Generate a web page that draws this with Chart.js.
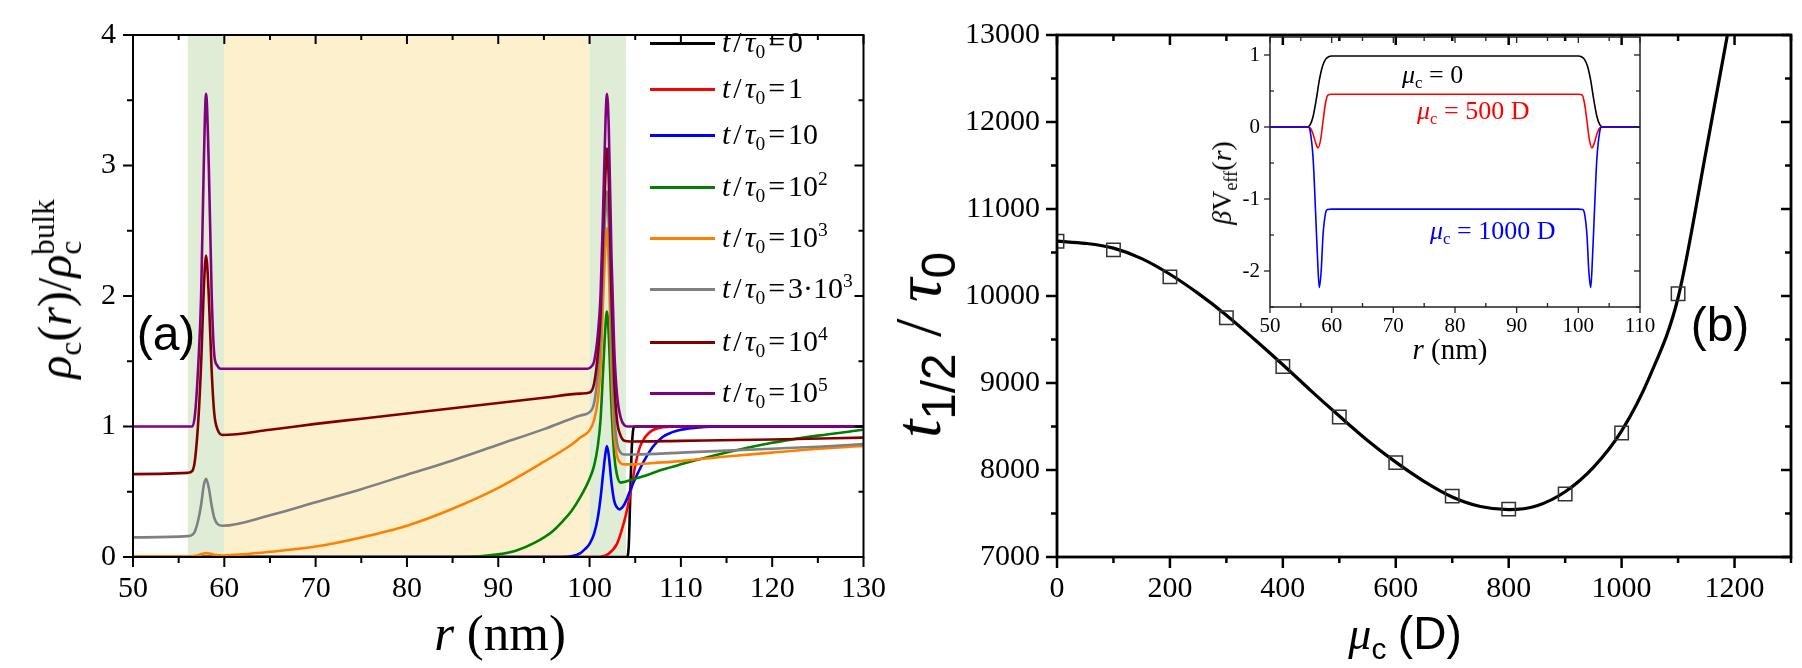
<!DOCTYPE html>
<html>
<head>
<meta charset="utf-8">
<script src="https://cdn.jsdelivr.net/npm/chart.js@4.4.1/dist/chart.umd.min.js"></script>
<style>
  html, body { margin:0; padding:0; background:#fff; }
  #page { position:relative; width:1802px; height:668px; overflow:hidden; background:#fff; }
  canvas { position:absolute; }
  .t { position:absolute; white-space:nowrap; line-height:1; font-family:'Liberation Serif','Times New Roman',serif; color:#000; }
  .t sub, .t sup { position:relative; vertical-align:baseline; font-size:0.65em; line-height:0; }
  .t sub { top:0.32em; }
  .t sup { top:-0.55em; }
  .sans { font-family:'Liberation Sans', Arial, sans-serif; }
  .leg-line { position:absolute; height:3px; }
</style>
</head>
<body>
<div id="page">
  <canvas id="cL" width="900" height="668" style="left:0;top:0"></canvas>
  <canvas id="cR" width="902" height="668" style="left:900px;top:0"></canvas>
  <canvas id="cI" width="520" height="370" style="left:1150px;top:0"></canvas>
</div>
<script>
// ---------------- Panel (a) data: r (nm) and rho_c(r)/rho_c^bulk ----------------
const xTicksA = [50, 60, 70, 80, 90, 100, 110, 120, 130];
const yTicksA = [0, 1, 2, 3, 4];
const bandStart = [56, 60, 100];
const bandEnd   = [60, 100, 104];
const bandColor = ['#dfedd6', '#fdf0cc', '#dfedd6'];

const r_t0 = [50, 104.1, 104.3, 104.45, 104.6, 104.75, 104.9, 130];
const rho_t0 = [0, 0, 0.1, 0.45, 0.8, 0.96, 1.0, 1.0];

const r_t1 = [50, 101, 102, 103, 103.5, 104, 104.5, 105, 105.5, 106, 106.5, 107, 108, 110, 130];
const rho_t1 = [0, 0, 0.02, 0.1, 0.2, 0.33, 0.5, 0.7, 0.84, 0.91, 0.95, 0.975, 0.995, 1.0, 1.0];

const r_t10 = [50, 97, 98, 99, 99.5, 100, 100.5, 100.9, 101.2, 101.5, 101.75, 101.9, 102.1, 102.4, 102.7, 103, 103.3, 103.7, 104, 104.5, 105, 106, 107, 108, 109, 110, 112, 115, 130];
const rho_t10 = [0, 0, 0.005, 0.03, 0.06, 0.1, 0.18, 0.3, 0.45, 0.65, 0.8, 0.85, 0.78, 0.57, 0.43, 0.38, 0.365, 0.39, 0.43, 0.52, 0.6, 0.74, 0.85, 0.92, 0.955, 0.975, 0.993, 1.0, 1.0];

const r_t1e2 = [50, 85, 88, 90, 92, 94, 96, 97, 98, 99, 100, 100.5, 100.9, 101.2, 101.5, 101.75, 101.9, 102.1, 102.4, 102.7, 103, 103.4, 103.8, 104.5, 105, 106, 108, 110, 115, 120, 125, 130];
const rho_t1e2 = [0, 0, 0.005, 0.02, 0.05, 0.11, 0.2, 0.27, 0.35, 0.46, 0.6, 0.7, 0.85, 1.05, 1.45, 1.78, 1.88, 1.7, 1.15, 0.78, 0.63, 0.57, 0.575, 0.59, 0.6, 0.62, 0.67, 0.71, 0.8, 0.875, 0.93, 0.975];

const r_t1e3 = [50, 56, 57, 57.5, 58, 58.5, 59, 60, 62, 65, 70, 75, 80, 85, 90, 95, 98, 99, 100, 100.5, 100.9, 101.2, 101.5, 101.75, 101.9, 102.1, 102.4, 102.7, 103, 103.4, 103.8, 105, 107, 110, 115, 120, 125, 130];
const rho_t1e3 = [0.005, 0.005, 0.012, 0.022, 0.03, 0.025, 0.015, 0.012, 0.02, 0.04, 0.08, 0.15, 0.24, 0.37, 0.53, 0.73, 0.86, 0.915, 0.97, 1.05, 1.2, 1.45, 2.0, 2.4, 2.52, 2.25, 1.45, 0.95, 0.78, 0.72, 0.71, 0.71, 0.72, 0.735, 0.77, 0.8, 0.83, 0.85];

const r_t3e3 = [50, 56, 56.5, 56.8, 57.2, 57.5, 57.75, 58, 58.3, 58.6, 58.9, 59.3, 59.8, 65, 70, 75, 80, 85, 90, 95, 99, 100, 100.5, 100.9, 101.2, 101.5, 101.75, 101.9, 102.1, 102.4, 102.7, 103, 103.4, 103.8, 105, 110, 115, 120, 125, 130];
const rho_t3e3 = [0.15, 0.16, 0.17, 0.2, 0.3, 0.42, 0.55, 0.6, 0.53, 0.4, 0.3, 0.25, 0.24, 0.32, 0.42, 0.52, 0.63, 0.74, 0.86, 0.98, 1.085, 1.11, 1.18, 1.4, 1.7, 2.3, 2.65, 2.8, 2.55, 1.7, 1.1, 0.88, 0.8, 0.785, 0.785, 0.8, 0.815, 0.83, 0.845, 0.865];

const r_t1e4 = [50, 56, 56.5, 56.8, 57.2, 57.5, 57.75, 58, 58.3, 58.6, 58.9, 59.3, 59.8, 65, 70, 75, 80, 85, 90, 95, 99, 100, 100.5, 100.9, 101.2, 101.5, 101.75, 101.9, 102.1, 102.4, 102.7, 103, 103.4, 103.8, 104.5, 110, 120, 130];
const rho_t1e4 = [0.635, 0.645, 0.66, 0.75, 1.1, 1.55, 2.05, 2.31, 2.0, 1.45, 1.1, 0.97, 0.935, 0.975, 1.02, 1.06, 1.1, 1.14, 1.18, 1.22, 1.252, 1.26, 1.33, 1.55, 1.85, 2.5, 2.95, 3.13, 2.9, 2.0, 1.35, 1.05, 0.93, 0.89, 0.885, 0.89, 0.9, 0.915];

const r_t1e5 = [50, 56.5, 56.8, 57.17, 57.46, 57.75, 58, 58.3, 58.62, 58.9, 59.2, 59.6, 70, 90, 99.8, 100.2, 100.5, 100.9, 101.2, 101.5, 101.75, 101.9, 102.1, 102.4, 102.7, 103, 103.4, 103.8, 104.2, 130];
const rho_t1e5 = [1, 1.0, 1.1, 1.5, 2.0, 3.0, 3.55, 3.0, 2.0, 1.55, 1.47, 1.443, 1.443, 1.443, 1.443, 1.46, 1.5, 1.7, 2.0, 2.7, 3.35, 3.55, 3.3, 2.3, 1.6, 1.25, 1.07, 1.01, 1.0, 1.0];

const seriesNamesA = ['t/τ0=0', 't/τ0=1', 't/τ0=10', 't/τ0=10^2', 't/τ0=10^3', 't/τ0=3·10^3', 't/τ0=10^4', 't/τ0=10^5'];
const seriesHtmlA = ['0', '1', '10', '10<sup>2</sup>', '10<sup>3</sup>', '3·10<sup>3</sup>', '10<sup>4</sup>', '10<sup>5</sup>'];
const seriesColorA = ['#000000', '#ff0000', '#0000ff', '#008000', '#ff8000', '#808080', '#800000', '#800080'];
const seriesR = [r_t0, r_t1, r_t10, r_t1e2, r_t1e3, r_t3e3, r_t1e4, r_t1e5];
const seriesRho = [rho_t0, rho_t1, rho_t10, rho_t1e2, rho_t1e3, rho_t3e3, rho_t1e4, rho_t1e5];
const legendY = [43, 89, 135, 187, 238, 289, 342, 393];

// ---------------- Panel (b) data: mu_c (D) and t_1/2 / tau_0 ----------------
const xTicksB = [0, 200, 400, 600, 800, 1000, 1200];
const yTicksB = [7000, 8000, 9000, 10000, 11000, 12000, 13000];
const mu_sim = [0, 100, 200, 300, 400, 500, 600, 700, 800, 900, 1000, 1100];
const thalf_sim = [10630, 10530, 10220, 9750, 9190, 8610, 8085, 7700, 7550, 7725, 8425, 10025];
const mu_fit = [0, 50, 100, 150, 200, 250, 300, 350, 400, 450, 500, 550, 600, 650, 700, 750, 800, 850, 900, 950, 1000, 1050, 1100, 1150, 1200];
const thalf_fit = [10630, 10605, 10550, 10430, 10250, 10030, 9780, 9500, 9210, 8910, 8620, 8340, 8090, 7870, 7690, 7580, 7545, 7590, 7750, 8030, 8450, 9080, 9980, 11680, 13450];

// ---------------- Inset data: r (nm) and beta V_eff(r) ----------------
const xTicksI = [50, 60, 70, 80, 90, 100, 110];
const yTicksI = [-2, -1, 0, 1];
const r_mu0 = [50, 56, 56.5, 57, 57.5, 58, 58.5, 59, 59.5, 60, 100, 100.5, 101, 101.5, 102, 102.5, 103, 103.5, 104, 110];
const V_mu0 = [0, 0, 0.03, 0.15, 0.38, 0.65, 0.84, 0.94, 0.975, 0.986, 0.986, 0.975, 0.94, 0.84, 0.65, 0.38, 0.15, 0.03, 0, 0];
const r_mu500 = [50, 56.2, 56.6, 57, 57.4, 57.8, 58.2, 58.6, 59, 59.4, 60, 100, 100.6, 101, 101.4, 101.8, 102.2, 102.6, 103, 103.4, 103.8, 110];
const V_mu500 = [0, 0, -0.02, -0.1, -0.22, -0.29, -0.18, 0.08, 0.33, 0.445, 0.454, 0.454, 0.445, 0.33, 0.08, -0.18, -0.29, -0.22, -0.1, -0.02, 0, 0];
const r_mu1000 = [50, 56.2, 56.5, 57, 57.4, 57.8, 58, 58.3, 58.6, 59, 59.3, 60, 100, 100.7, 101, 101.4, 101.7, 102, 102.2, 102.6, 103, 103.5, 103.8, 110];
const V_mu1000 = [0, 0, -0.05, -0.45, -1.2, -2.0, -2.23, -2.0, -1.5, -1.2, -1.145, -1.14, -1.14, -1.145, -1.2, -1.5, -2.0, -2.23, -2.0, -1.2, -0.45, -0.05, 0, 0];
const insetColors = ['#000000', '#ff0000', '#0000ff'];

// ---------------- helpers ----------------
const SERIF = "'Liberation Serif', 'Times New Roman', serif";
const pts = (xs, ys) => xs.map((x, i) => ({x: x, y: ys[i]}));
function range(a, b, s) { const o = []; for (let v = a; v <= b + 1e-9; v += s) o.push(+v.toFixed(6)); return o; }

const bandsPlugin = {
  id: 'bands',
  beforeDatasetsDraw(chart, args, opts) {
    if (!opts || !opts.starts) return;
    const {ctx, chartArea: a, scales: {x}} = chart;
    ctx.save();
    opts.starts.forEach((s, i) => {
      const x0 = x.getPixelForValue(s), x1 = x.getPixelForValue(opts.ends[i]);
      ctx.fillStyle = opts.colors[i];
      ctx.fillRect(x0, a.top, x1 - x0, a.bottom - a.top);
    });
    ctx.restore();
  }
};

const framePlugin = {
  id: 'frame',
  afterDraw(chart, args, o) {
    const {ctx, chartArea: a, scales: {x, y}} = chart;
    ctx.save();
    ctx.strokeStyle = o.color; ctx.lineWidth = o.tickWidth; ctx.lineCap = 'butt';
    const line = (x0, y0, x1, y1) => { ctx.beginPath(); ctx.moveTo(x0, y0); ctx.lineTo(x1, y1); ctx.stroke(); };
    const doX = (vals, L) => vals.forEach(v => {
      const px = x.getPixelForValue(v);
      line(px, a.bottom - L.lbIn, px, a.bottom + L.lbOut);
      line(px, a.top, px, a.top + L.trIn);
    });
    const doY = (vals, L) => vals.forEach(v => {
      const py = y.getPixelForValue(v);
      line(a.left + L.lbIn, py, a.left - L.lbOut, py);
      line(a.right, py, a.right - L.trIn, py);
    });
    doX(o.xMinor, o.minor); doX(o.xMajor, o.major);
    doY(o.yMinor, o.minor); doY(o.yMajor, o.major);
    ctx.lineWidth = o.frameWidth;
    ctx.strokeRect(a.left, a.top, a.right - a.left, a.bottom - a.top);
    ctx.restore();
  }
};

function axis(min, max, ticks, fontSize, pad, fixKey, fixVal) {
  return {
    type: 'linear', min: min, max: max,
    grid: {display: false, drawTicks: false},
    border: {display: false},
    ticks: {
      color: '#000', padding: pad, maxRotation: 0, autoSkip: false,
      font: {family: SERIF, size: fontSize},
      callback: v => String(v)
    },
    afterBuildTicks: s => { s.ticks = ticks.map(v => ({value: v})); },
    afterFit: s => { s[fixKey] = fixVal; }
  };
}

const charts = [];
function lineDs(label, data, color, width, order) {
  return {label: label, data: data, borderColor: color, borderWidth: width, pointRadius: 0,
          fill: false, cubicInterpolationMode: 'monotone', borderJoinStyle: 'round', order: order};
}

function buildCharts() {
  charts.push(new Chart(document.getElementById('cL'), {
    type: 'line',
    data: { datasets: seriesR.map((rs, i) => lineDs(seriesNamesA[i], pts(rs, seriesRho[i]), seriesColorA[i], 2.6, -i)) },
    options: {
      responsive: false, animation: false, events: [],
      layout: {padding: {top: 16, right: 32, left: 0, bottom: 0}},
      scales: {
        x: axis(50, 130, xTicksA, 30, 14, 'height', 111),
        y: axis(0, 4, yTicksA, 30, 17, 'width', 133)
      },
      plugins: {
        legend: {display: false}, tooltip: {enabled: false},
        bands: {starts: bandStart, ends: bandEnd, colors: bandColor},
        frame: {
          color: '#000', tickWidth: 2, frameWidth: 2,
          xMajor: xTicksA, xMinor: range(55, 125, 10),
          yMajor: yTicksA, yMinor: range(0.5, 3.5, 1),
          major: {lbIn: 0, lbOut: 10, trIn: 9},
          minor: {lbIn: 0, lbOut: 6, trIn: 5}
        }
      }
    },
    plugins: [bandsPlugin, framePlugin]
  }));

  charts.push(new Chart(document.getElementById('cR'), {
    type: 'line',
    data: {
      datasets: [
        {label: 'simulation', data: pts(mu_sim, thalf_sim), showLine: false, pointStyle: 'rect',
         pointRadius: 9.5, pointBorderColor: '#333', pointBorderWidth: 1.5, pointBackgroundColor: 'rgba(0,0,0,0)', order: 0},
        lineDs('fit', pts(mu_fit, thalf_fit), '#000', 3.2, 1)
      ]
    },
    options: {
      responsive: false, animation: false, events: [],
      layout: {padding: {top: 16, right: 11, left: 0, bottom: 0}},
      scales: {
        x: axis(0, 1300, xTicksB, 30, 14, 'height', 111),
        y: axis(7000, 13000, yTicksB, 30, 17, 'width', 157)
      },
      plugins: {
        legend: {display: false}, tooltip: {enabled: false},
        frame: {
          color: '#000', tickWidth: 2.5, frameWidth: 2.8,
          xMajor: xTicksB, xMinor: range(100, 1300, 200),
          yMajor: yTicksB, yMinor: range(7500, 12500, 1000),
          major: {lbIn: 0, lbOut: 11, trIn: 10},
          minor: {lbIn: 0, lbOut: 6, trIn: 6}
        }
      }
    },
    plugins: [framePlugin]
  }));

  const insetR = [r_mu0, r_mu500, r_mu1000];
  const insetV = [V_mu0, V_mu500, V_mu1000];
  charts.push(new Chart(document.getElementById('cI'), {
    type: 'line',
    data: { datasets: insetR.map((rs, i) => lineDs('mu' + i, pts(rs, insetV[i]), insetColors[i], 1.6, -i)) },
    options: {
      responsive: false, animation: false, events: [],
      layout: {padding: {top: 37, right: 30, left: 0, bottom: 0}},
      scales: {
        x: axis(50, 110, xTicksI, 21, 7, 'height', 63),
        y: axis(-2.5, 1.25, yTicksI, 21, 10, 'width', 120)
      },
      plugins: {
        legend: {display: false}, tooltip: {enabled: false},
        frame: {
          color: '#222', tickWidth: 1.3, frameWidth: 1.5,
          xMajor: xTicksI, xMinor: range(55, 105, 10),
          yMajor: yTicksI, yMinor: [-2.5, -1.5, -0.5, 0.5],
          major: {lbIn: 0, lbOut: 6, trIn: 6},
          minor: {lbIn: 4, lbOut: 0, trIn: 4}
        }
      }
    },
    plugins: [framePlugin]
  }));
}
buildCharts();
if (document.fonts && document.fonts.ready) {
  document.fonts.ready.then(() => charts.forEach(c => c.update('none')));
}

// ---------------- Text overlays (real text) ----------------
const page = document.getElementById('page');
function addText(html, o) {
  const d = document.createElement('div');
  d.className = 't' + (o.cls ? ' ' + o.cls : '');
  d.innerHTML = html;
  d.style.fontSize = o.size + 'px';
  if (o.color) d.style.color = o.color;
  if (o.cx !== undefined) {
    d.style.left = o.cx + 'px';
    d.style.top = o.cy + 'px';
    d.style.transform = 'translate(-50%,-50%)' + (o.rot ? ' rotate(' + o.rot + 'deg)' : '');
  } else {
    d.style.left = o.left + 'px';
    d.style.top = o.top + 'px';
  }
  page.appendChild(d);
  return d;
}

const gap = '<span style="display:inline-block;width:3px"></span>';
seriesHtmlA.forEach((h, i) => {
  const ln = document.createElement('div');
  ln.className = 'leg-line';
  ln.style.left = '650px'; ln.style.width = '65px';
  ln.style.top = (legendY[i] - 1.5) + 'px';
  ln.style.background = seriesColorA[i];
  page.appendChild(ln);
  addText('<i>t</i>' + gap + '/' + gap + '<i>τ</i><sub>0</sub>' + gap + '=' + gap + h, {size: 30, left: 722, top: legendY[i] - 16});
});

addText('(a)', {cls: 'sans', size: 48, cx: 166, cy: 334});
addText('(b)', {cls: 'sans', size: 48, cx: 1720, cy: 325});

addText('<i>r</i> (nm)', {size: 51, cx: 500, cy: 633});
addText('<i>ρ</i><sub>c</sub>(<i>r</i>)/<i>ρ</i><sub>c</sub><sup style="margin-left:-14px">bulk</sup>', {size: 48, cx: 55, cy: 289, rot: -90});

addText('<i>μ</i><sub class="sans">c</sub> <span class="sans">(D)</span>', {size: 46, cx: 1405, cy: 633});
addText('<i>t</i><sub class="sans" style="font-size:0.72em">1/2</sub> / <i>τ</i><sub class="sans" style="font-size:0.72em">0</sub>', {size: 66, cx: 918, cy: 345, rot: -90});

addText('<i>β</i>V<sub>eff</sub>(<i>r</i>)', {size: 28, cx: 1222, cy: 183, rot: -90});
addText('<i>r</i> (nm)', {size: 29, cx: 1450, cy: 349});
addText('<i>μ</i><sub>c</sub> = 0', {size: 26, left: 1402, top: 62, color: '#000'});
addText('<i>μ</i><sub>c</sub> = 500 D', {size: 26, left: 1417, top: 98, color: '#ff0000'});
addText('<i>μ</i><sub>c</sub> = 1000 D', {size: 26, left: 1430, top: 218, color: '#0000ff'});
</script>
</body>
</html>
